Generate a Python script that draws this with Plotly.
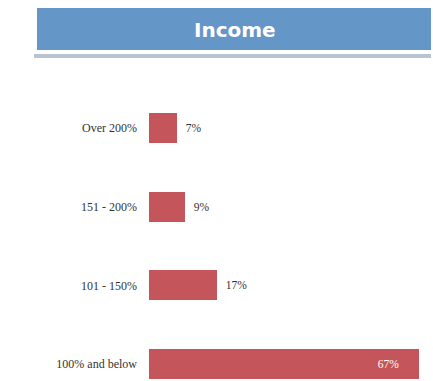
import plotly.graph_objects as go

categories = ["100% and below", "101 - 150%", "151 - 200%", "Over 200%"]
values = [67, 17, 9, 7]
labels = ["67%", "17%", "9%", "7%"]

W, H = 433, 381
L, R, T, B = 149, 0, 60, 0
pw, ph = W - L - R, H - T - B

def px(x):
    return (x - L) / pw

def py(y):
    return (H - B - y) / ph

positions = ["inside", "outside", "outside", "outside"]
templates = ["%{text}\u2003\u2002" if p == "inside" else "\u2002%{text}" for p in positions]

fig = go.Figure()
fig.add_trace(go.Bar(
    y=categories, x=values, orientation="h",
    marker=dict(color="#c4555a", line=dict(width=0)),
    width=0.38,
    text=labels,
    texttemplate=templates,
    textposition=positions,
    insidetextanchor="end",
    textfont=dict(family="Liberation Serif", size=11.5),
    insidetextfont=dict(color="white"),
    outsidetextfont=dict(color="#333333"),
    cliponaxis=False,
))

shapes = [
    dict(type="rect", xref="paper", yref="paper",
         x0=px(37), x1=px(431), y0=py(50), y1=py(8),
         fillcolor="#6496c8", line=dict(width=0), layer="above"),
    dict(type="rect", xref="paper", yref="paper",
         x0=px(34), x1=px(431), y0=py(58), y1=py(54),
         fillcolor="#b9c3d2", line=dict(width=0), layer="above"),
]

fig.update_layout(
    width=W, height=H,
    margin=dict(l=L, r=R, t=T, b=B),
    paper_bgcolor="white", plot_bgcolor="white",
    showlegend=False,
    bargap=0,
    xaxis=dict(range=[0, 70.5], visible=False, fixedrange=True),
    yaxis=dict(range=[-0.216, 3.864], showgrid=False, zeroline=False,
               showline=False, ticks="", ticklabelstandoff=11,
               tickfont=dict(family="Liberation Serif", size=12, color="#333333")),
    shapes=shapes,
    annotations=[dict(text="<b>Income</b>", xref="paper", yref="paper",
                      x=px(235), y=py(30), xanchor="center", yanchor="middle",
                      showarrow=False,
                      font=dict(family="DejaVu Sans", size=20, color="white"))],
    uniformtext=dict(minsize=8, mode="show"),
)

fig.write_html("out.html")
